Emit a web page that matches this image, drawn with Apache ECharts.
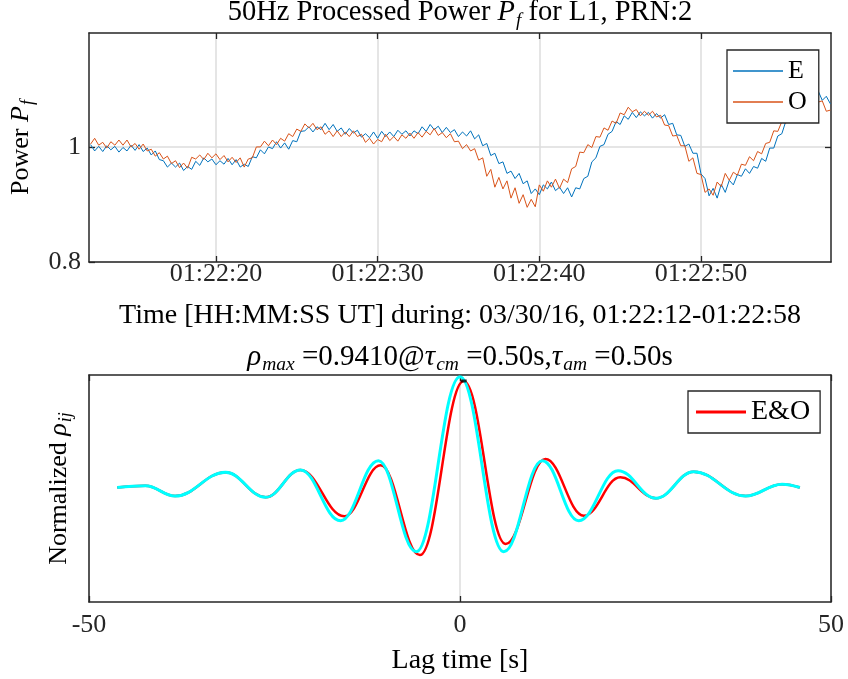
<!DOCTYPE html>
<html><head><meta charset="utf-8">
<script src="https://cdn.jsdelivr.net/npm/echarts@6/dist/echarts.min.js"></script>
<style>html,body{margin:0;padding:0;background:#fff}#c{width:848px;height:679px}</style>
</head><body><div id="c"></div>
<script>
// ---- data (time in seconds after 01:22:00 UT) ----
const timeStart = 12.15, timeEnd = 58.04;
const timeTicks = [20, 30, 40, 50];
const sampleStart = 12.25, sampleStep = 0.25;
const powerE = [
1.004,0.993,1.001,0.992,1.002,0.995,1.001,0.991,0.999,0.993,1.003,0.994,
1.004,0.992,0.998,0.986,0.993,0.978,0.976,0.965,0.972,0.965,0.972,0.959,
0.966,0.961,0.975,0.968,0.981,0.974,0.979,0.969,0.976,0.970,0.980,0.969,
0.978,0.965,0.970,0.966,0.983,0.981,0.995,0.988,1.000,0.997,1.009,0.998,
1.007,0.996,1.011,1.009,1.027,1.028,1.035,1.026,1.035,1.030,1.041,1.030,
1.039,1.027,1.033,1.022,1.032,1.024,1.029,1.017,1.023,1.016,1.026,1.015,
1.027,1.018,1.026,1.018,1.029,1.022,1.028,1.019,1.028,1.023,1.035,1.027,
1.039,1.030,1.036,1.025,1.034,1.025,1.030,1.018,1.026,1.019,1.028,1.014,
1.021,1.002,1.006,0.985,0.989,0.971,0.974,0.954,0.958,0.945,0.954,0.936,
0.941,0.919,0.927,0.917,0.934,0.927,0.939,0.924,0.930,0.919,0.929,0.913,
0.929,0.927,0.945,0.949,0.974,0.981,1.001,1.004,1.022,1.027,1.044,1.039,
1.054,1.048,1.060,1.051,1.061,1.054,1.060,1.050,1.058,1.050,1.056,1.039,
1.041,1.021,1.020,1.001,1.005,0.989,0.989,0.953,0.945,0.915,0.928,0.911,
0.935,0.921,0.942,0.934,0.952,0.949,0.962,0.954,0.966,0.963,0.980,0.975,
0.998,0.998,1.019,1.023,1.045,1.045,1.061,1.057,1.074,1.075,1.094,1.085,
1.097,1.081,1.088,1.075];
const powerO = [
1.005,1.015,1.003,1.008,0.998,1.009,1.003,1.012,1.003,1.012,1.000,1.006,
0.996,1.005,0.993,0.996,0.984,0.990,0.979,0.984,0.971,0.976,0.964,0.972,
0.963,0.982,0.979,0.986,0.978,0.989,0.981,0.988,0.978,0.985,0.974,0.982,
0.973,0.981,0.965,0.979,0.981,1.000,1.000,1.010,1.002,1.012,1.004,1.015,
1.010,1.023,1.018,1.031,1.027,1.040,1.033,1.041,1.030,1.035,1.022,1.028,
1.018,1.028,1.018,1.026,1.018,1.028,1.018,1.022,1.008,1.015,1.005,1.013,
1.009,1.022,1.011,1.018,1.010,1.021,1.015,1.024,1.015,1.025,1.017,1.027,
1.021,1.032,1.020,1.025,1.016,1.023,1.009,1.010,0.997,1.004,0.993,0.997,
0.977,0.981,0.949,0.961,0.930,0.947,0.927,0.941,0.911,0.929,0.902,0.917,
0.895,0.909,0.896,0.934,0.923,0.941,0.930,0.944,0.928,0.944,0.938,0.962,
0.966,0.991,0.990,1.004,0.999,1.018,1.017,1.033,1.029,1.045,1.041,1.059,
1.056,1.069,1.061,1.065,1.054,1.062,1.055,1.062,1.052,1.055,1.038,1.037,
1.019,1.020,1.002,1.002,0.975,0.981,0.954,0.952,0.921,0.927,0.916,0.939,
0.931,0.954,0.942,0.956,0.951,0.970,0.968,0.983,0.976,0.992,0.988,1.006,
1.008,1.028,1.027,1.044,1.041,1.057,1.055,1.071,1.068,1.083,1.079,1.086,
1.078,1.080,1.062,1.064];
const powerTicks = [0.8, 1];
const lagTicks = [-50, 0, 50];
// turning points of the correlation curves (lag [s], normalized rho)
const lagAuto = [-46.2,-42.4,-38.4,-31.6,-26.2,-21.5,-16.1,-11.0,-5.9,0,5.9,11.1,16.0,21.3,26.4,31.5,38.5,43.4,45.8];
const rhoAuto = [0.000,0.016,-0.077,0.137,-0.088,0.158,-0.300,0.242,-0.580,1.000,-0.580,0.242,-0.300,0.152,-0.097,0.143,-0.077,0.030,0.000];
const lagCross = [-46.2,-42.4,-38.4,-31.6,-26.2,-21.5,-15.6,-10.7,-5.4,0.5,6.15,11.5,16.7,21.6,26.4,31.5,38.5,43.4,45.8];
const rhoCross = [0.000,0.016,-0.077,0.137,-0.088,0.158,-0.260,0.200,-0.610,0.961,-0.510,0.257,-0.255,0.092,-0.097,0.143,-0.077,0.030,0.000];
const peakPoint = [0.5, 0.961];

// ---- styles ----
const F = 'Liberation Serif';
const AX = '#262626';
const FS = 26;
function mkRich(fs, sfs, lh, pt) {
  return {
    n: {fontSize: fs, fontFamily: F, fontWeight: 'normal', color: '#000', verticalAlign: 'middle', lineHeight: lh},
    i: {fontSize: fs, fontFamily: F, fontWeight: 'normal', color: '#000', fontStyle: 'italic', verticalAlign: 'middle', lineHeight: lh},
    s: {fontSize: sfs, fontFamily: F, fontWeight: 'normal', color: '#000', fontStyle: 'italic', verticalAlign: 'top', padding: [pt, 0, 0, 1]}
  };
}
const richAx = mkRich(26, 18, 32, 14);
const richT = mkRich(28.5, 19, 34, 15);
const richT2 = mkRich(29, 19.5, 34, 15);
const pad2 = v => (v < 10 ? '0' : '') + v;
const tickStyle = {lineStyle: {color: AX, width: 1.3}, inside: true, length: 6};
const lineAx = {show: true, onZero: false, lineStyle: {color: AX, width: 1.5}};
const lblStyle = {fontSize: FS, fontFamily: F, color: AX};
const gridLine = {show: true, lineStyle: {color: '#dcdcdc', width: 1.5}};

const chart = echarts.init(document.getElementById('c'), null, {renderer: 'canvas'});
chart.setOption({
  animation: false,
  backgroundColor: '#fff',
  title: [
    {text: '{n|50Hz Processed Power }{i|P}{s|f}{n| for L1, PRN:2}', left: 460, top: -4, textAlign: 'center', padding: 0, textStyle: {fontWeight: 'normal', rich: richT}},
    {text: '{i|ρ}{s|max}{n| =0.9410@}{i|τ}{s|cm}{n| =0.50s,}{i|τ}{s|am}{n| =0.50s}', left: 460, top: 340, textAlign: 'center', padding: 0, textStyle: {fontWeight: 'normal', rich: richT2}}
  ],
  grid: [
    {left: 89, right: 17, top: 33, height: 229},
    {left: 89, right: 17, top: 375, height: 227}
  ],
  xAxis: [
    {gridIndex: 0, type: 'value', min: timeStart, max: timeEnd, position: 'bottom',
     axisLine: lineAx, axisTick: Object.assign({customValues: timeTicks}, tickStyle),
     axisLabel: Object.assign({customValues: timeTicks, margin: -1, formatter: v => '01:22:' + pad2(Math.round(v))}, lblStyle),
     splitLine: gridLine,
     name: 'Time [HH:MM:SS UT] during: 03/30/16, 01:22:12-01:22:58', nameLocation: 'middle', nameGap: 40,
     nameTextStyle: {fontSize: 28, fontFamily: F, color: '#000'}},
    {gridIndex: 0, type: 'value', min: timeStart, max: timeEnd, position: 'top',
     axisLine: lineAx, axisTick: Object.assign({customValues: timeTicks}, tickStyle),
     axisLabel: {show: false}, splitLine: {show: false}},
    {gridIndex: 1, type: 'value', min: lagTicks[0], max: lagTicks[2], interval: 50, position: 'bottom',
     axisLine: lineAx, axisTick: tickStyle,
     axisLabel: Object.assign({margin: 10, formatter: v => String(v)}, lblStyle),
     splitLine: gridLine,
     name: 'Lag time [s]', nameLocation: 'middle', nameGap: 45,
     nameTextStyle: {fontSize: 28, fontFamily: F, color: '#000'}},
    {gridIndex: 1, type: 'value', min: lagTicks[0], max: lagTicks[2], interval: 50, position: 'top',
     axisLine: lineAx, axisTick: tickStyle, axisLabel: {show: false}, splitLine: {show: false}}
  ],
  yAxis: [
    {gridIndex: 0, type: 'value', min: 0.8, max: 1.198, position: 'left',
     axisLine: lineAx, axisTick: Object.assign({customValues: powerTicks}, tickStyle),
     axisLabel: Object.assign({customValues: powerTicks, margin: 8, formatter: v => (v === 1 ? '1' : v.toFixed(1))}, lblStyle),
     splitLine: gridLine,
     name: '{n|Power }{i|P}{s|f}', nameLocation: 'middle', nameRotate: 90, nameGap: 50,
     nameTextStyle: {rich: richAx}},
    {gridIndex: 0, type: 'value', min: 0.8, max: 1.198, position: 'right',
     axisLine: lineAx, axisTick: Object.assign({customValues: [1]}, tickStyle),
     axisLabel: {show: false}, splitLine: {show: false}},
    {gridIndex: 1, type: 'value', min: -1.033, max: 1.015, position: 'left',
     axisLine: lineAx, axisTick: {show: false}, axisLabel: {show: false}, splitLine: {show: false},
     name: '{n|Normalized }{i|ρ}{s|ij}', nameLocation: 'middle', nameRotate: 90, nameGap: 14,
     nameTextStyle: {rich: richAx}},
    {gridIndex: 1, type: 'value', min: -1.033, max: 1.015, position: 'right',
     axisLine: lineAx, axisTick: {show: false}, axisLabel: {show: false}, splitLine: {show: false}}
  ],
  legend: [
    {data: ['E', 'O'], orient: 'vertical', left: 727, top: 50, itemWidth: 50, itemHeight: 1.5, icon: 'rect',
     itemGap: 5, padding: [8, 12, 8, 6], backgroundColor: '#fff', borderColor: AX, borderWidth: 1.3,
     textStyle: {fontSize: FS, fontFamily: F, color: '#000'}},
    {data: ['E&O'], orient: 'vertical', left: 688, top: 391, itemWidth: 50, itemHeight: 3, icon: 'rect',
     padding: [7, 10, 7, 8], backgroundColor: '#fff', borderColor: AX, borderWidth: 1.3,
     textStyle: {fontSize: 28, fontFamily: F, color: '#000'}}
  ],
  series: [
    {name: 'E', type: 'line', xAxisIndex: 0, yAxisIndex: 0, symbol: 'none', silent: true,
     color: '#0072BD', lineStyle: {width: 1, color: '#0072BD'},
     data: powerE.map((v, i) => [sampleStart + i * sampleStep, v])},
    {name: 'O', type: 'line', xAxisIndex: 0, yAxisIndex: 0, symbol: 'none', silent: true,
     color: '#D95319', lineStyle: {width: 1, color: '#D95319'},
     data: powerO.map((v, i) => [sampleStart + i * sampleStep, v])},
    {name: 'E&O', type: 'line', xAxisIndex: 2, yAxisIndex: 2, symbol: 'none', smooth: 0.4, smoothMonotone: 'x', silent: true,
     color: '#FF0000', lineStyle: {width: 2.5, color: '#FF0000'},
     data: lagCross.map((l, i) => [l, rhoCross[i]])},
    {name: 'auto', type: 'line', xAxisIndex: 2, yAxisIndex: 2, symbol: 'none', smooth: 0.4, smoothMonotone: 'x', silent: true,
     color: '#00FFFF', lineStyle: {width: 3, color: '#00FFFF'},
     data: lagAuto.map((l, i) => [l, rhoAuto[i]])},
    {name: 'peak', type: 'scatter', xAxisIndex: 2, yAxisIndex: 2, symbol: 'rect', symbolSize: [6, 3], silent: true,
     itemStyle: {color: '#000'}, data: [peakPoint], z: 5}
  ]
});
</script></body></html>
